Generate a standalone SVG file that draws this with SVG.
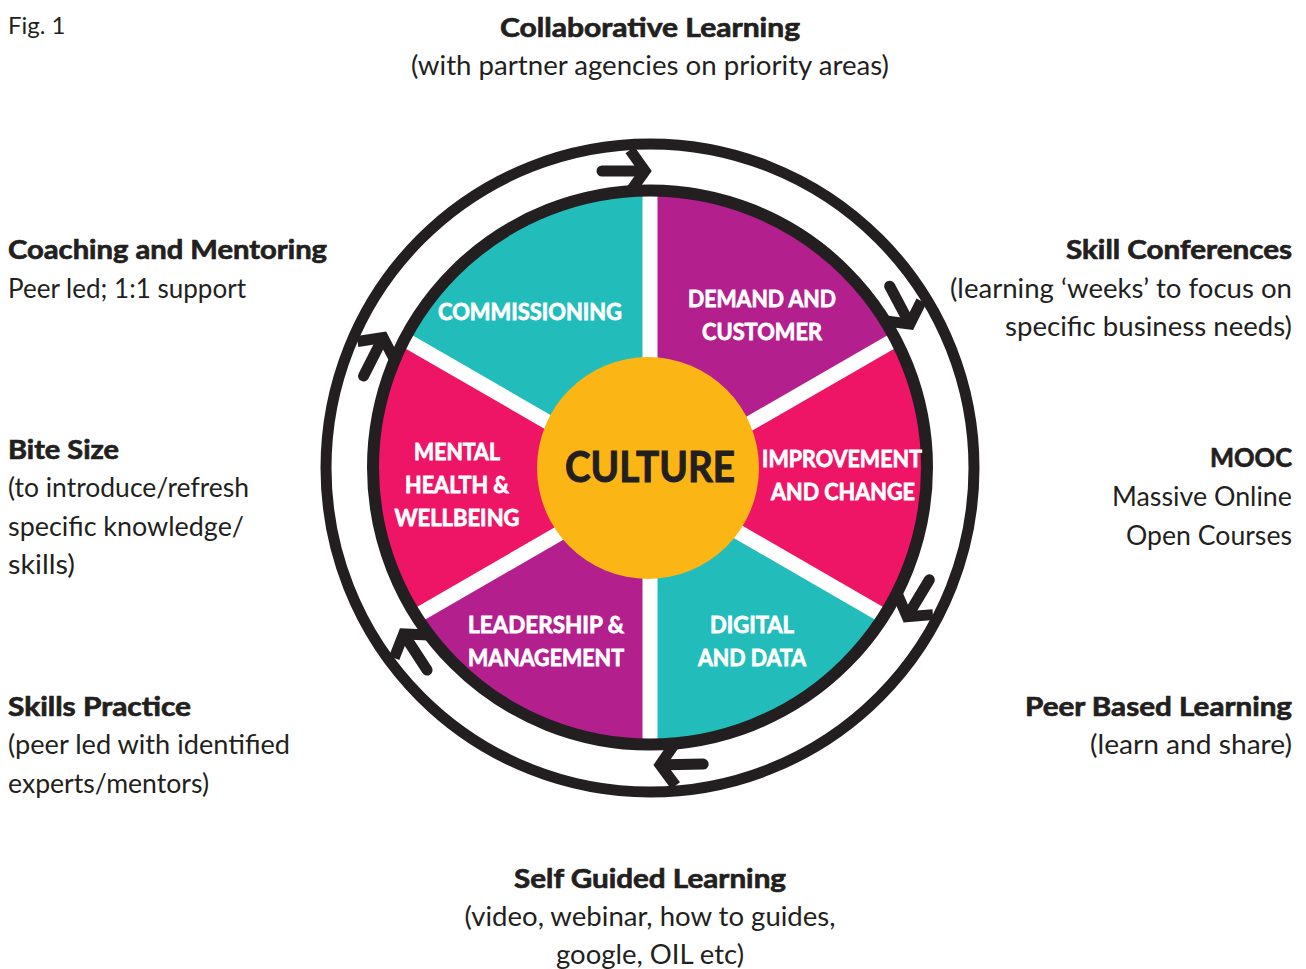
<svg xmlns="http://www.w3.org/2000/svg" width="1306" height="969" viewBox="0 0 1306 969">
  <style>
    .t { font-family: Lato, "Open Sans", "Liberation Sans", sans-serif; fill: #231F20; font-size: 27px; }
    .b { font-weight: 700; stroke: #231F20; stroke-width: 0.7px; }
    .fig { font-size: 24px; }
    .lbl { font-family: Lato, "Open Sans", "Liberation Sans", sans-serif; font-weight: 700; font-size: 23px; fill: #FFFFFF; stroke: #FFFFFF; stroke-width: 0.8px; text-anchor: middle; }
    .ctr { font-family: Lato, "Open Sans", "Liberation Sans", sans-serif; font-weight: 700; font-size: 42px; fill: #231F20; stroke: #231F20; stroke-width: 1px; text-anchor: middle; }
    .mid { text-anchor: middle; }
    .end { text-anchor: end; }
    .ring { fill: none; stroke: #231F20; }
    .gap { stroke: #FFFFFF; stroke-width: 15; }
    .arr { fill: none; stroke: #231F20; stroke-width: 11; }
  </style>
  <defs>
    <g id="cw-arrow">
      <path class="arr" d="M 602 171 L 640 171" stroke-linecap="round"/>
      <path class="arr" d="M 630 150 L 645 171 L 630 192" stroke-linejoin="miter"/>
    </g>
  </defs>
  <rect width="1306" height="969" fill="#FFFFFF"/>

  <text class="t fig" x="8" y="34">Fig. 1</text>

  <!-- wheel -->
  <g id="wheel">
    <g id="sector-demand"><path d="M 650 481 L 650 191.5 A 276 276 0 0 1 894.6 339.75 Z" fill="#B31F8D"/></g>
    <g id="sector-improvement"><path d="M 650 481 L 894.6 339.75 A 276 276 0 0 1 883 615.5 Z" fill="#EE1466"/></g>
    <g id="sector-digital"><path d="M 650 481 L 883 615.5 A 276 276 0 0 1 650 743.5 Z" fill="#22BDBA"/></g>
    <g id="sector-leadership"><path d="M 650 481 L 650 743.5 A 276 276 0 0 1 417 615.5 Z" fill="#B31F8D"/></g>
    <g id="sector-mental"><path d="M 650 481 L 417 615.5 A 276 276 0 0 1 405.4 339.75 Z" fill="#EE1466"/></g>
    <g id="sector-commissioning"><path d="M 650 481 L 405.4 339.75 A 276 276 0 0 1 650 191.5 Z" fill="#22BDBA"/></g>
    <g id="dividers">
      <line class="gap" x1="650" y1="481" x2="650" y2="185"/>
      <line class="gap" x1="650" y1="481" x2="650" y2="750"/>
      <line class="gap" x1="650" y1="481" x2="900" y2="336.7"/>
      <line class="gap" x1="650" y1="481" x2="400" y2="336.7"/>
      <line class="gap" x1="650" y1="481" x2="888" y2="618.4"/>
      <line class="gap" x1="650" y1="481" x2="412" y2="618.4"/>
    </g>
    <circle class="ring" cx="650" cy="467.5" r="277" stroke-width="12"/>
    <circle class="ring" cx="650" cy="468" r="324" stroke-width="11"/>
    <g id="culture">
      <circle cx="648" cy="468" r="111" fill="#FBB616"/>
      <text class="ctr" x="650" y="482" textLength="170" lengthAdjust="spacingAndGlyphs">CULTURE</text>
    </g>
  </g>

  <!-- clockwise arrows between the two rings -->
  <g id="connectors">
    <use href="#cw-arrow"/>
    <use href="#cw-arrow" transform="rotate(62 650 468)"/>
    <use href="#cw-arrow" transform="rotate(121 650 468)"/>
    <use href="#cw-arrow" transform="rotate(179 650 468)"/>
    <use href="#cw-arrow" transform="rotate(237 650 468)"/>
    <use href="#cw-arrow" transform="rotate(297 650 468)"/>
  </g>

  <!-- wheel labels -->
  <g id="label-commissioning"><text class="lbl" x="530" y="320" textLength="184" lengthAdjust="spacingAndGlyphs">COMMISSIONING</text></g>
  <g id="label-demand">
    <text class="lbl" x="762" y="306.5" textLength="148" lengthAdjust="spacingAndGlyphs">DEMAND AND</text>
    <text class="lbl" x="762" y="340" textLength="120" lengthAdjust="spacingAndGlyphs">CUSTOMER</text>
  </g>
  <g id="label-improvement">
    <text class="lbl" x="842" y="466.5" textLength="160" lengthAdjust="spacingAndGlyphs">IMPROVEMENT</text>
    <text class="lbl" x="843" y="499.5" textLength="144" lengthAdjust="spacingAndGlyphs">AND CHANGE</text>
  </g>
  <g id="label-digital">
    <text class="lbl" x="752" y="632.5" textLength="84" lengthAdjust="spacingAndGlyphs">DIGITAL</text>
    <text class="lbl" x="752" y="665.5" textLength="108" lengthAdjust="spacingAndGlyphs">AND DATA</text>
  </g>
  <g id="label-leadership">
    <text class="lbl" x="546" y="632.5" textLength="156" lengthAdjust="spacingAndGlyphs">LEADERSHIP &amp;</text>
    <text class="lbl" x="546" y="665.5" textLength="156" lengthAdjust="spacingAndGlyphs">MANAGEMENT</text>
  </g>
  <g id="label-mental">
    <text class="lbl" x="457" y="459.5" textLength="86" lengthAdjust="spacingAndGlyphs">MENTAL</text>
    <text class="lbl" x="457" y="492.5" textLength="104" lengthAdjust="spacingAndGlyphs">HEALTH &amp;</text>
    <text class="lbl" x="457" y="525.5" textLength="125" lengthAdjust="spacingAndGlyphs">WELLBEING</text>
  </g>

  <!-- surrounding learning modes -->
  <g id="collaborative">
    <text class="t b mid" x="650" y="37" textLength="300" lengthAdjust="spacingAndGlyphs">Collaborative Learning</text>
    <text class="t mid" x="650" y="75" textLength="478" lengthAdjust="spacingAndGlyphs">(with partner agencies on priority areas)</text>
  </g>
  <g id="coaching">
    <text class="t b" x="8" y="259" textLength="319" lengthAdjust="spacingAndGlyphs">Coaching and Mentoring</text>
    <text class="t" x="8" y="298" textLength="238" lengthAdjust="spacingAndGlyphs">Peer led; 1:1 support</text>
  </g>
  <g id="bitesize">
    <text class="t b" x="8" y="459" textLength="111" lengthAdjust="spacingAndGlyphs">Bite Size</text>
    <text class="t" x="8" y="497" textLength="241" lengthAdjust="spacingAndGlyphs">(to introduce/refresh</text>
    <text class="t" x="8" y="536" textLength="236" lengthAdjust="spacingAndGlyphs">specific knowledge/</text>
    <text class="t" x="8" y="574" textLength="67" lengthAdjust="spacingAndGlyphs">skills)</text>
  </g>
  <g id="practice">
    <text class="t b" x="8" y="716" textLength="183" lengthAdjust="spacingAndGlyphs">Skills Practice</text>
    <text class="t" x="8" y="754" textLength="282" lengthAdjust="spacingAndGlyphs">(peer led with identified</text>
    <text class="t" x="8" y="793" textLength="201" lengthAdjust="spacingAndGlyphs">experts/mentors)</text>
  </g>
  <g id="selfguided">
    <text class="t b mid" x="650" y="888" textLength="272" lengthAdjust="spacingAndGlyphs">Self Guided Learning</text>
    <text class="t mid" x="650" y="926" textLength="371" lengthAdjust="spacingAndGlyphs">(video, webinar, how to guides,</text>
    <text class="t mid" x="650" y="964" textLength="188" lengthAdjust="spacingAndGlyphs">google, OIL etc)</text>
  </g>
  <g id="conferences">
    <text class="t b end" x="1292" y="259" textLength="226" lengthAdjust="spacingAndGlyphs">Skill Conferences</text>
    <text class="t end" x="1292" y="298" textLength="342" lengthAdjust="spacingAndGlyphs">(learning ‘weeks’ to focus on</text>
    <text class="t end" x="1292" y="336" textLength="287" lengthAdjust="spacingAndGlyphs">specific business needs)</text>
  </g>
  <g id="mooc">
    <text class="t b end" x="1292" y="467" textLength="82" lengthAdjust="spacingAndGlyphs">MOOC</text>
    <text class="t end" x="1292" y="506" textLength="180" lengthAdjust="spacingAndGlyphs">Massive Online</text>
    <text class="t end" x="1292" y="545" textLength="166" lengthAdjust="spacingAndGlyphs">Open Courses</text>
  </g>
  <g id="peerbased">
    <text class="t b end" x="1292" y="716" textLength="267" lengthAdjust="spacingAndGlyphs">Peer Based Learning</text>
    <text class="t end" x="1292" y="754" textLength="202" lengthAdjust="spacingAndGlyphs">(learn and share)</text>
  </g>
</svg>
